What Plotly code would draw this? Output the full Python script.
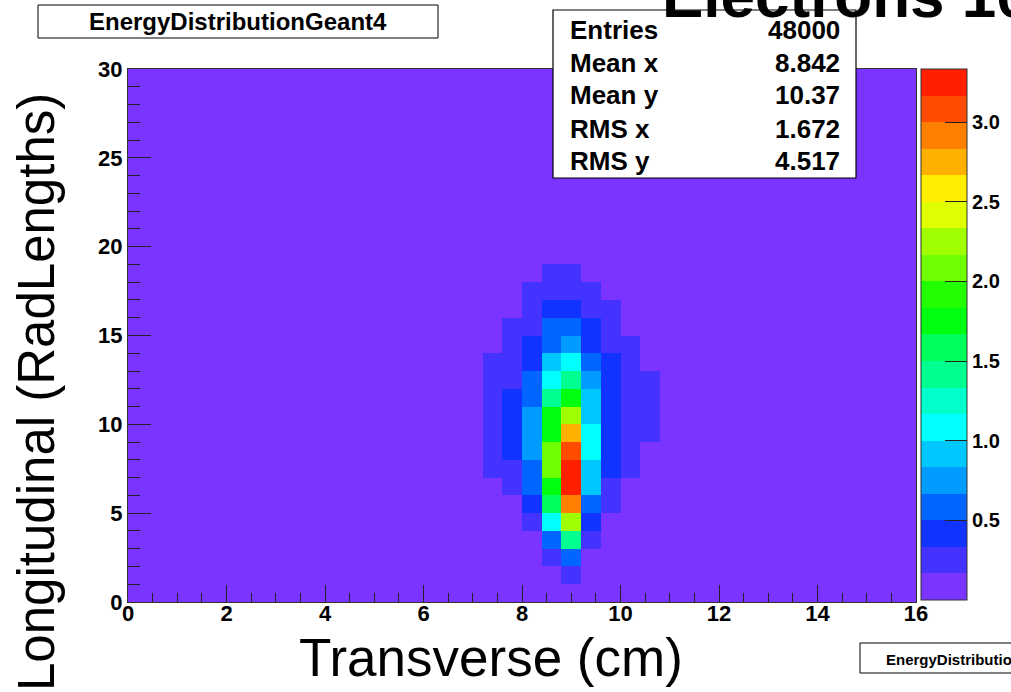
import numpy as np
import plotly.graph_objects as go

# ---------------- data ----------------
n_x_bins = 40          # 0..16 cm, 0.4 cm bins
n_y_bins = 30          # 0..30 radiation lengths, 1 RL bins
x_bin_width = 0.4
y_bin_width = 1.0
background_value = 0.08

# rows of non-background bins: lower y edge, first x edge, bin values
row_y = [1, 2, 3, 4, 5, 6, 7, 8, 9, 10, 11, 12, 13, 14, 15, 16, 17, 18]
row_x_start = [8.8, 8.4, 8.4, 8.0, 8.0, 7.6, 7.2, 7.2, 7.2, 7.2, 7.2, 7.2, 7.2, 7.6, 7.6, 8.0, 8.0, 8.4]
row_values = [
    [0.25],
    [0.25, 0.58],
    [0.58, 1.42, 0.25],
    [0.25, 1.08, 2.25, 0.42],
    [0.42, 1.58, 2.92, 0.58, 0.25],
    [0.25, 0.58, 1.80, 3.25, 0.92, 0.25],
    [0.25, 0.25, 0.58, 2.08, 3.25, 0.92, 0.42, 0.25],
    [0.25, 0.42, 0.75, 2.08, 3.08, 1.08, 0.42, 0.25],
    [0.25, 0.42, 0.75, 1.80, 2.75, 1.08, 0.42, 0.25, 0.25],
    [0.25, 0.42, 0.75, 1.80, 2.25, 0.92, 0.42, 0.25, 0.25],
    [0.25, 0.42, 0.58, 1.42, 1.80, 0.92, 0.42, 0.25, 0.25],
    [0.25, 0.25, 0.58, 1.08, 1.42, 0.75, 0.42, 0.25, 0.25],
    [0.25, 0.25, 0.42, 0.92, 1.08, 0.58, 0.42, 0.25],
    [0.25, 0.42, 0.58, 0.75, 0.42, 0.25, 0.25],
    [0.25, 0.25, 0.58, 0.58, 0.42, 0.25],
    [0.25, 0.42, 0.42, 0.25, 0.25],
    [0.25, 0.25, 0.25, 0.25],
    [0.25, 0.25],
]

z_min = 0.0
z_max = 10.0 / 3.0
colorbar_ticks = [0.5, 1.0, 1.5, 2.0, 2.5, 3.0]

stats_labels = ["Entries", "Mean x", "Mean y", "RMS x", "RMS y"]
stats_values = ["48000", "8.842", "10.37", "1.672", "4.517"]

# ROOT-like 20-level palette (bottom -> top)
palette = ["#7b33ff", "#4433ff", "#1133ff", "#0066ff", "#009cff", "#00c8ff",
           "#00ffff", "#00ffcc", "#00ff90", "#00ff5a", "#00ff0e", "#22ff00",
           "#70ff00", "#a0ff00", "#e0ff00", "#ffee00", "#ffb000", "#ff8000",
           "#ff4c00", "#ff2000"]

# ---------------- build grid ----------------
z = np.full((n_y_bins, n_x_bins), background_value)
for yl, xs, vals in zip(row_y, row_x_start, row_values):
    iy = int(round(yl / y_bin_width))
    ix0 = int(round(xs / x_bin_width))
    for k, v in enumerate(vals):
        z[iy, ix0 + k] = v

x_centers = (np.arange(n_x_bins) + 0.5) * x_bin_width
y_centers = (np.arange(n_y_bins) + 0.5) * y_bin_width

nlev = len(palette)
colorscale = []
for k, c in enumerate(palette):
    colorscale.append([k / nlev, c])
    colorscale.append([(k + 1) / nlev, c])

# ---------------- layout helpers (page pixel -> paper) ----------------
W, H = 1011, 692
PL, PR, PT, PB = 128, 916, 69, 602   # plot area in page pixels
L, R, T, B = PL, PR, PT, PB


def px(xp):
    return (xp - PL) / (PR - PL)


def py(yp):
    return (PB - yp) / (PB - PT)


FONT = "Liberation Sans, Arial, Helvetica, sans-serif"

fig = go.Figure()
fig.add_trace(go.Heatmap(
    x=x_centers, y=y_centers, z=z,
    zmin=z_min, zmax=z_max,
    colorscale=colorscale,
    hoverinfo="skip",
    colorbar=dict(
        x=px(921), xanchor="left", xpad=0,
        y=1.0, yanchor="top", ypad=0,
        len=(600 - PT) / (PB - PT), lenmode="fraction",
        thickness=46, thicknessmode="pixels",
        tickvals=colorbar_ticks, tickformat=".1f",
        ticks="inside", ticklen=22, tickcolor="#222", tickwidth=1,
        tickfont=dict(family=FONT, size=20, color="black", weight="bold"),
        outlinewidth=1, outlinecolor="#333",
    ),
))

axis_common = dict(
    showgrid=False, zeroline=False, automargin=False,
    showline=True, mirror=True, linecolor="#333", linewidth=1,
    ticks="inside", tickcolor="#222", tickwidth=1,
    tickfont=dict(family=FONT, size=22, color="black", weight="bold"),
)

fig.update_xaxes(range=[0, 16], dtick=2, tick0=0, ticklen=17, ticklabelstandoff=-8,
                 minor=dict(dtick=0.5, ticklen=9, ticks="inside", tickcolor="#222"),
                 **axis_common)
fig.update_yaxes(range=[0, 30], dtick=5, tick0=0, ticklen=23,
                 minor=dict(dtick=1, ticklen=12, ticks="inside", tickcolor="#222"),
                 **axis_common)

shapes = [
    # title box
    dict(type="rect", xref="paper", yref="paper", x0=px(38), x1=px(438), y0=py(38), y1=py(5),
         fillcolor="white", line=dict(color="black", width=1)),
    # stats box
    dict(type="rect", xref="paper", yref="paper", x0=px(553), x1=px(856), y0=py(178), y1=py(10),
         fillcolor="white", line=dict(color="black", width=1.2), layer="above"),
    # bottom-right box
    dict(type="rect", xref="paper", yref="paper", x0=px(860), x1=px(1030), y0=py(673), y1=py(643),
         fillcolor="white", line=dict(color="black", width=1)),
]

annotations = [
    dict(text="Electrons 10 GeV", xref="paper", yref="paper", x=px(660), y=py(-5),
         xanchor="left", yanchor="middle", showarrow=False,
         font=dict(family=FONT, size=62, color="black", weight="bold")),
    dict(text="EnergyDistributionGeant4", xref="paper", yref="paper", x=px(238), y=py(22),
         xanchor="center", yanchor="middle", showarrow=False,
         font=dict(family=FONT, size=24, color="black", weight="bold")),
    dict(text="EnergyDistributionGeant4", xref="paper", yref="paper", x=px(884), y=py(659),
         xanchor="left", yanchor="middle", showarrow=False,
         font=dict(family=FONT, size=15, color="black", weight="bold")),
    dict(text="Transverse (cm)", xref="paper", yref="paper", x=px(491), y=py(657),
         xanchor="center", yanchor="middle", showarrow=False,
         font=dict(family=FONT, size=53, color="black")),
    dict(text="Longitudinal (RadLengths)", xref="paper", yref="paper", x=px(36), y=py(392),
         xanchor="center", yanchor="middle", showarrow=False, textangle=-90,
         font=dict(family=FONT, size=51, color="black")),
]

row_centers = [30, 63, 95, 129, 161]
for lab, val, yc in zip(stats_labels, stats_values, row_centers):
    annotations.append(dict(text=lab, xref="paper", yref="paper", x=px(568), y=py(yc),
                            xanchor="left", yanchor="middle", showarrow=False,
                            font=dict(family=FONT, size=26, color="black", weight="bold")))
    annotations.append(dict(text=val, xref="paper", yref="paper", x=px(842), y=py(yc),
                            xanchor="right", yanchor="middle", showarrow=False,
                            font=dict(family=FONT, size=26, color="black", weight="bold")))

fig.update_layout(
    width=W, height=H,
    margin=dict(l=L, r=W - R, t=T, b=H - B, pad=0, autoexpand=False),
    paper_bgcolor="white", plot_bgcolor="white",
    shapes=shapes, annotations=annotations,
    showlegend=False,
)

# remove the default 8px page margin so the figure fills the window exactly
fig.write_html("out.html",
               config={"displayModeBar": False},
               post_script="document.body.style.margin='0';document.body.style.overflow='hidden';")
